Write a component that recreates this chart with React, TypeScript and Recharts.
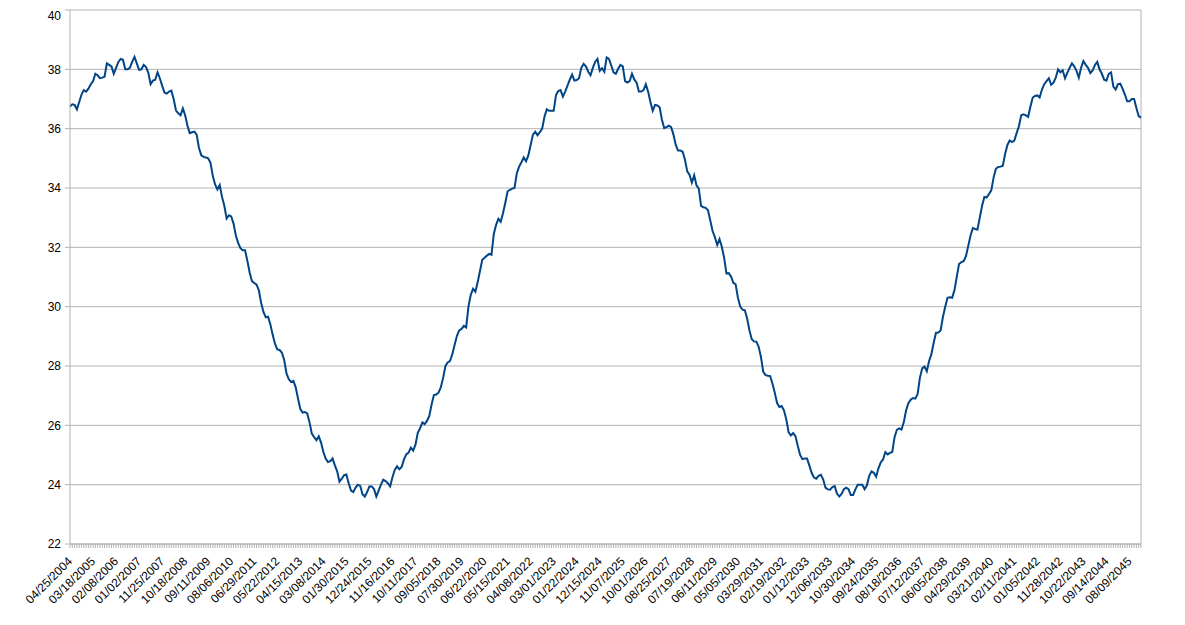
import React from 'react'
import { LineChart, Line, XAxis, YAxis, CartesianGrid, ReferenceLine } from 'recharts'

// one label every 10 categories
const dateLabels = [
  '04/25/2004', '03/18/2005', '02/08/2006', '01/02/2007', '11/25/2007', '10/18/2008',
  '09/11/2009', '08/06/2010', '06/29/2011', '05/22/2012', '04/15/2013', '03/08/2014',
  '01/30/2015', '12/24/2015', '11/16/2016', '10/11/2017', '09/05/2018', '07/30/2019',
  '06/22/2020', '05/15/2021', '04/08/2022', '03/01/2023', '01/22/2024', '12/15/2024',
  '11/07/2025', '10/01/2026', '08/25/2027', '07/19/2028', '06/11/2029', '05/05/2030',
  '03/29/2031', '02/19/2032', '01/12/2033', '12/06/2033', '10/30/2034', '09/24/2035',
  '08/18/2036', '07/12/2037', '06/05/2038', '04/29/2039', '03/21/2040', '02/11/2041',
  '01/05/2042', '11/28/2042', '10/22/2043', '09/14/2044', '08/09/2045',
]

const yTicks = [22, 24, 26, 28, 30, 32, 34, 36, 38, 40]

const values = [
  36.75, 36.82, 36.8, 36.65, 36.9, 37.15, 37.3, 37.25, 37.35, 37.5,
  37.6, 37.85, 37.8, 37.7, 37.72, 37.75, 38.2, 38.15, 38.1, 37.85,
  38.05, 38.25, 38.35, 38.32, 38.0, 38.0, 38.05, 38.25, 38.42, 38.2,
  37.98, 38.0, 38.15, 38.08, 37.88, 37.5, 37.62, 37.65, 37.9, 37.7,
  37.45, 37.22, 37.18, 37.25, 37.28, 37.0, 36.62, 36.52, 36.45, 36.68,
  36.45, 36.1, 35.85, 35.88, 35.9, 35.8, 35.35, 35.1, 35.05, 35.03,
  35.0, 34.85, 34.4, 34.12, 33.95, 34.1, 33.7, 33.4, 32.97, 33.08,
  33.04, 32.8, 32.4, 32.15, 31.97, 31.9, 31.9, 31.55, 31.15, 30.86,
  30.8, 30.74, 30.55, 30.12, 29.82, 29.64, 29.66, 29.4, 29.05, 28.75,
  28.56, 28.54, 28.45, 28.2, 27.75, 27.55, 27.46, 27.5, 27.28, 26.9,
  26.55, 26.43, 26.45, 26.4, 26.1, 25.72, 25.6, 25.5, 25.63, 25.42,
  25.1, 24.88, 24.76, 24.79, 24.88, 24.65, 24.45, 24.1, 24.2, 24.32,
  24.34, 24.05, 23.8, 23.75, 23.9, 24.0, 23.96, 23.68, 23.6, 23.75,
  23.94, 23.94, 23.85, 23.6, 23.8, 24.0, 24.17, 24.12, 24.05, 23.94,
  24.25, 24.5, 24.62, 24.52, 24.6, 24.85, 25.02, 25.08, 25.25, 25.15,
  25.35, 25.75, 25.9, 26.1, 26.04, 26.15, 26.32, 26.7, 27.02, 27.04,
  27.1, 27.28, 27.6, 28.0, 28.12, 28.17, 28.4, 28.72, 29.02, 29.2,
  29.25, 29.35, 29.3, 30.0, 30.4, 30.6, 30.5, 30.82, 31.2, 31.58,
  31.65, 31.72, 31.78, 31.75, 32.45, 32.76, 32.96, 32.86, 33.15, 33.5,
  33.89, 33.94, 33.98, 34.0, 34.5, 34.72, 34.87, 35.03, 34.9, 35.1,
  35.45, 35.8, 35.9, 35.78, 35.88, 36.0, 36.4, 36.65, 36.6, 36.6,
  36.6, 37.13, 37.27, 37.3, 37.08, 37.25, 37.45, 37.65, 37.82, 37.62,
  37.64, 37.7, 38.05, 38.18, 38.1, 37.92, 37.8, 38.05, 38.25, 38.35,
  37.95, 38.04, 37.92, 38.4, 38.35, 38.13, 37.9, 37.85, 38.02, 38.15,
  38.1, 37.6, 37.55, 37.6, 37.85, 37.66, 37.55, 37.25, 37.25, 37.3,
  37.5, 37.25, 36.9, 36.6, 36.8, 36.78, 36.72, 36.3, 36.02, 36.05,
  36.1, 36.05, 35.8, 35.45, 35.26, 35.26, 35.22, 34.95, 34.56, 34.44,
  34.18, 34.43, 34.09, 33.98, 33.4, 33.35, 33.33, 33.25, 32.9, 32.55,
  32.34, 32.08, 32.28, 32.02, 31.65, 31.12, 31.13, 31.02, 30.8, 30.75,
  30.3, 30.0, 29.9, 29.88, 29.6, 29.2, 28.9, 28.83, 28.82, 28.65,
  28.3, 27.8, 27.69, 27.67, 27.66, 27.4, 27.1, 26.75, 26.62, 26.65,
  26.5, 26.2, 25.76, 25.66, 25.74, 25.63, 25.3, 25.0, 24.86, 24.88,
  24.88, 24.65, 24.4, 24.24, 24.2, 24.3, 24.33, 24.18, 23.9, 23.84,
  23.83, 23.92, 23.95, 23.7, 23.6, 23.69, 23.85, 23.9, 23.85, 23.65,
  23.65, 23.84, 24.0, 24.0, 24.0, 23.85, 23.98, 24.3, 24.45, 24.4,
  24.27, 24.55, 24.75, 24.85, 25.1, 25.02, 25.07, 25.1, 25.6, 25.85,
  25.9, 25.86, 26.1, 26.5, 26.75, 26.86, 26.92, 26.9, 27.05, 27.6,
  27.92, 27.98, 27.82, 28.17, 28.4, 28.79, 29.12, 29.13, 29.2, 29.65,
  30.0, 30.3, 30.32, 30.3, 30.55, 31.0, 31.44, 31.5, 31.53, 31.7,
  32.05, 32.4, 32.65, 32.62, 32.6, 33.0, 33.4, 33.7, 33.68, 33.8,
  33.92, 34.35, 34.65, 34.71, 34.72, 34.75, 35.15, 35.45, 35.6, 35.55,
  35.6, 35.85, 36.08, 36.45, 36.48, 36.45, 36.4, 36.75, 37.05, 37.1,
  37.12, 37.05, 37.32, 37.5, 37.6, 37.7, 37.48, 37.55, 37.72, 38.0,
  37.9, 37.97, 37.7, 37.88, 38.05, 38.2, 38.1, 37.95, 37.72, 38.06,
  38.28, 38.15, 38.05, 37.87, 37.96, 38.15, 38.25, 38.0, 37.85, 37.65,
  37.62, 37.85, 37.9, 37.42, 37.32, 37.5, 37.52, 37.35, 37.15, 36.92,
  36.92, 37.0, 37.0, 36.7, 36.42, 36.37,
]

const data = values.map((v, i) => ({ i, v }))
const lastIdx = values.length - 1
const xTicks = data.map(d => d.i)

const GRID = '#b3b3b3'

function DateTick(props: any) {
  const { x, y, payload } = props
  const idx = payload.value
  if (idx % 10 !== 0 || !dateLabels[idx / 10]) return <g />
  const px = x + 3
  const py = y + 12
  return (
    <text x={px} y={py} transform={`rotate(-45 ${px} ${py})`} textAnchor="end" fontSize={12} fill="#000">
      {dateLabels[idx / 10]}
    </text>
  )
}

export default function App() {
  return (
    <div style={{ width: 1169, height: 610, fontFamily: '"Liberation Sans", Arial, sans-serif' }}>
      <LineChart width={1169} height={610} data={data} margin={{ top: 2, right: 36, left: 0, bottom: 4 }}>
        <CartesianGrid vertical={false} stroke={GRID} />
        <XAxis
          dataKey="i"
          type="number"
          domain={[0, lastIdx]}
          ticks={xTicks}
          interval={0}
          height={70}
          tickSize={4}
          tickMargin={2}
          stroke={GRID}
          tick={<DateTick />}
        />
        <YAxis
          domain={[22, 40]}
          ticks={yTicks}
          width={62}
          tickSize={5}
          tickMargin={4}
          stroke={GRID}
          tick={{ fontSize: 12, fill: '#000' }}
        />
        <ReferenceLine x={lastIdx} stroke={GRID} />
        <Line
          type="linear"
          dataKey="v"
          stroke="#004586"
          strokeWidth={2}
          dot={false}
          isAnimationActive={false}
        />
      </LineChart>
    </div>
  )
}
